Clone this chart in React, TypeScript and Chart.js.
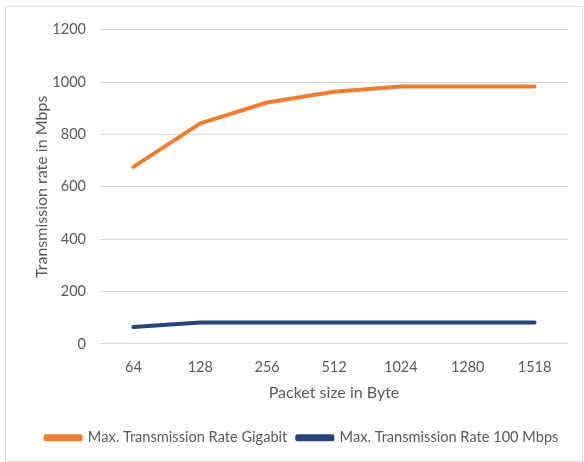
import React, { useEffect, useRef } from "react";
import { Chart, registerables } from "chart.js";

Chart.register(...registerables);

const packetSizes = ["64", "128", "256", "512", "1024", "1280", "1518"];
const gigabitRates = [676, 842, 922, 963, 983, 983, 983];
const fastEthernetRates = [65, 82, 82, 82, 82, 82, 82];
const seriesNames = ["Max. Transmission Rate Gigabit", "Max. Transmission Rate 100 Mbps"];
const yTitle = "Transmission rate in Mbps";
const xTitle = "Packet size in Byte";
const yMin = 0;
const yMax = 1200;
const yStep = 200;

const FONT = "Lato, 'Open Sans', sans-serif";
const TEXT = "#595959";

const legendShift = {
  id: "legendShift",
  afterLayout(chart: any) {
    const lg = chart.legend;
    if (lg) {
      lg.left += 15;
      lg.right += 15;
    }
  },
};

export default function App() {
  const ref = useRef<HTMLCanvasElement | null>(null);

  useEffect(() => {
    if (!ref.current) return;
    const chart = new Chart(ref.current, {
      type: "line",
      data: {
        labels: packetSizes,
        datasets: [
          {
            label: seriesNames[0],
            data: gigabitRates,
            borderColor: "#ED7D31",
            backgroundColor: "#ED7D31",
            borderWidth: 4,
            pointRadius: 0,
            borderCapStyle: "round",
            borderJoinStyle: "round",
            tension: 0,
          },
          {
            label: seriesNames[1],
            data: fastEthernetRates,
            borderColor: "#264478",
            backgroundColor: "#264478",
            borderWidth: 4,
            pointRadius: 0,
            borderCapStyle: "round",
            borderJoinStyle: "round",
            tension: 0,
          },
        ],
      },
      options: {
        animation: false,
        responsive: false,
        devicePixelRatio: 1,
        layout: { padding: { top: 19, right: 14, left: 0, bottom: 6 } },
        plugins: {
          tooltip: { enabled: false },
          legend: {
            position: "bottom",
            labels: {
              boxWidth: 35,
              boxHeight: 3,
              padding: 10,
              color: TEXT,
              font: { family: FONT, size: 14.6 },
            },
          },
        },
        scales: {
          x: {
            offset: true,
            grid: { display: false },
            border: { display: false },
            ticks: { color: TEXT, font: { family: FONT, size: 14.5 }, padding: 7, maxRotation: 0 },
            title: {
              display: true,
              text: xTitle,
              color: TEXT,
              font: { family: FONT, size: 16 },
              padding: { top: 0, bottom: 18 },
            },
            afterFit: (s: any) => {
              s.height = 76.5;
            },
          },
          y: {
            min: yMin,
            max: yMax,
            ticks: {
              stepSize: yStep,
              color: TEXT,
              font: { family: FONT, size: 14.5 },
              padding: 14,
              callback: (v: any) => String(v),
            },
            grid: { color: "#D9D9D9", lineWidth: 1, drawTicks: false },
            border: { display: false },
            title: {
              display: true,
              text: yTitle,
              color: TEXT,
              font: { family: FONT, size: 16 },
              padding: { top: 26, bottom: 0 },
            },
            afterFit: (s: any) => {
              s.width = 94;
            },
          },
        },
      },
      plugins: [legendShift],
    });
    return () => chart.destroy();
  }, []);

  return (
    <div style={{ position: "absolute", left: 0, top: 0, width: 584, height: 462, background: "#fff" }}>
      <div
        style={{
          position: "absolute",
          left: 5,
          top: 6,
          width: 576,
          height: 454,
          border: "1px solid #D9D9D9",
        }}
      >
        <canvas ref={ref} width={576} height={454} style={{ display: "block" }} />
      </div>
    </div>
  );
}
